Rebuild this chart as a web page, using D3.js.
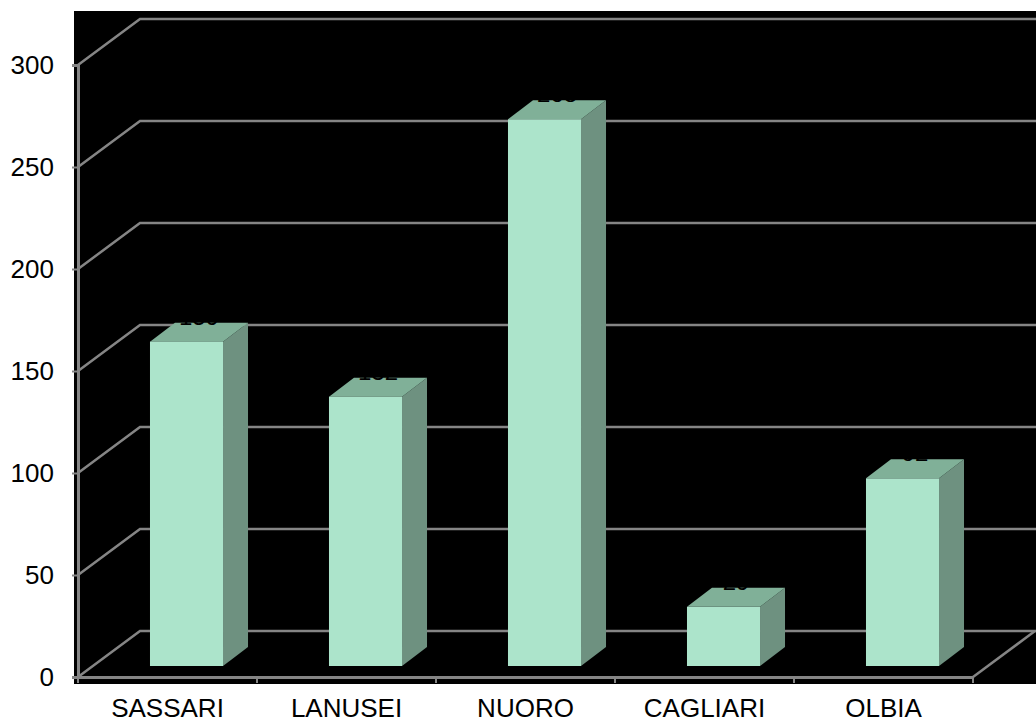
<!DOCTYPE html>
<html>
<head>
<meta charset="utf-8">
<script src="https://cdn.jsdelivr.net/npm/d3@7"></script>
<style>
  body { margin: 0; background: #fff; }
  svg { display: block; font-family: "Liberation Sans", Arial, sans-serif; }
</style>
</head>
<body>
<svg id="mySvg"></svg>
<script>
const categories = ["SASSARI", "LANUSEI", "NUORO", "CAGLIARI", "OLBIA"];
const values = [159, 132, 268, 29, 92];
const yTicks = [0, 50, 100, 150, 200, 250, 300];

const width = 1036;
const height = 721;

// 3d depth of the walls and of the bars
const wallDx = 62, wallDy = -46;
const barShiftX = 19, barShiftY = -11;
const barDx = 25, barDy = -19;

const svg = d3.select("#mySvg").attr("width", width).attr("height", height);

const yScale = d3.scaleLinear().domain([0, 300]).range([677, 65]);
const xBand = d3.scaleBand().domain(categories).range([78, 973]).paddingInner(0.592).paddingOuter(0.296);
const xLabel = d3.scaleBand().domain(categories).range([78, 973]).padding(0);

// black plot area
svg.append("rect")
  .attr("x", 74).attr("y", 11)
  .attr("width", width - 74).attr("height", 673)
  .attr("fill", "#000");

// gridlines: side wall diagonal + back wall line
const grid = svg.append("g").attr("stroke", "#858585").attr("stroke-width", 2.5).attr("fill", "none");
grid.selectAll("path")
  .data(yTicks)
  .enter()
  .append("path")
  .attr("d", d => {
    const y = yScale(d);
    return `M78,${y} L${78 + wallDx},${y + wallDy} L${width + 5},${y + wallDy}`;
  });

// floor right edge
grid.append("line")
  .attr("x1", 973).attr("y1", yScale(0))
  .attr("x2", 973 + wallDx).attr("y2", yScale(0) + wallDy);

// bars
const bars = svg.selectAll(".bar")
  .data(categories.map((c, i) => ({ c, v: values[i] })))
  .enter()
  .append("g")
  .attr("class", "bar");

const bx = d => xBand(d.c) + barShiftX;
const bw = xBand.bandwidth();
const by = d => yScale(d.v) + barShiftY;
const b0 = yScale(0) + barShiftY;

bars.append("path")
  .attr("fill", "#6e9180")
  .attr("d", d => {
    const x = bx(d) + bw;
    return `M${x},${by(d)} L${x + barDx},${by(d) + barDy} L${x + barDx},${b0 + barDy} L${x},${b0} Z`;
  });

bars.append("path")
  .attr("fill", "#80b098")
  .attr("d", d => {
    const x = bx(d), y = by(d);
    return `M${x},${y} L${x + barDx},${y + barDy} L${x + bw + barDx},${y + barDy} L${x + bw},${y} Z`;
  });

bars.append("rect")
  .attr("x", bx)
  .attr("y", by)
  .attr("width", bw)
  .attr("height", d => b0 - by(d))
  .attr("fill", "#ace4cb");

// value labels (black on black, as in the original)
bars.append("text")
  .attr("x", d => bx(d) + bw / 2 + barDx / 2)
  .attr("y", d => by(d) + barDy + 2)
  .attr("text-anchor", "middle")
  .attr("font-size", 24)
  .attr("fill", "#000")
  .text(d => d.v);

// y axis
const yAxis = svg.append("g")
  .attr("transform", "translate(78,0)")
  .call(d3.axisLeft(yScale).tickValues(yTicks).tickSize(6).tickPadding(18));
yAxis.select(".domain").attr("stroke", "#858585").attr("stroke-width", 3);
yAxis.selectAll(".tick line").attr("stroke", "#858585").attr("stroke-width", 2);
yAxis.selectAll("text").attr("font-size", 26).attr("fill", "#000").attr("font-family", "Liberation Sans, Arial, sans-serif");

// x axis
const xAxis = svg.append("g")
  .attr("transform", `translate(0,${yScale(0)})`)
  .call(d3.axisBottom(xLabel).tickSize(0).tickPadding(22));
xAxis.select(".domain").attr("stroke", "#858585").attr("stroke-width", 3);
xAxis.selectAll("text").attr("font-size", 26).attr("fill", "#000").attr("font-family", "Liberation Sans, Arial, sans-serif");

// category separator ticks
xAxis.selectAll(".sep")
  .data(categories.concat(["end"]))
  .enter()
  .append("line")
  .attr("class", "sep")
  .attr("x1", (d, i) => 78 + i * xLabel.step())
  .attr("x2", (d, i) => 78 + i * xLabel.step())
  .attr("y1", 0).attr("y2", 6)
  .attr("stroke", "#858585").attr("stroke-width", 2);
</script>
</body>
</html>
